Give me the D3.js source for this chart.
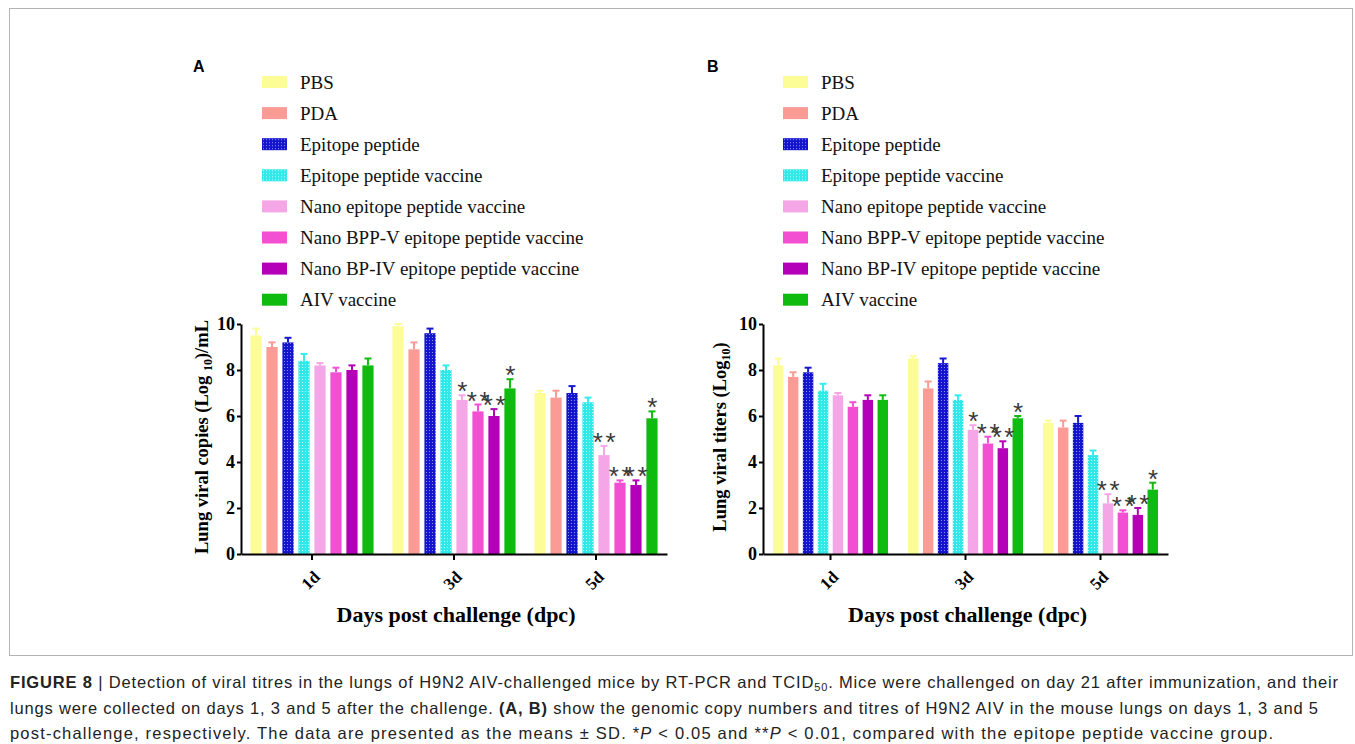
<!DOCTYPE html>
<html lang="en">
<head>
<meta charset="utf-8">
<title>Figure 8</title>
<script src="https://d3js.org/d3.v7.min.js"></script>
<style>
  body { margin: 0; background: #fff; }
  svg { display: block; }
</style>
</head>
<body>
<div id="chart"></div>
<script>
var groups = ["PBS", "PDA", "Epitope peptide", "Epitope peptide vaccine",
  "Nano epitope peptide vaccine", "Nano BPP-V epitope peptide vaccine",
  "Nano BP-IV epitope peptide vaccine", "AIV vaccine"];
var colors = ["#fdfd98", "#fa9b95", "#1818d2", "#35ecec", "#f5a6e6", "#f24fd2", "#b400b8", "#10bb10"];
var days = ["1d", "3d", "5d"];
var yTicks = [0, 2, 4, 6, 8, 10];

// A: lung viral copies, one row per day (1d, 3d, 5d)
var copiesMean = [
  [9.5, 9.0, 9.2, 8.4, 8.2, 7.9, 8.0, 8.2],
  [9.9, 8.9, 9.6, 8.0, 6.7, 6.2, 6.0, 7.2],
  [7.0, 6.8, 7.0, 6.6, 4.3, 3.1, 3.0, 5.9]
];
var copiesSD = [
  [0.3, 0.2, 0.2, 0.3, 0.1, 0.2, 0.2, 0.3],
  [0.1, 0.3, 0.2, 0.2, 0.2, 0.3, 0.3, 0.4],
  [0.1, 0.3, 0.3, 0.2, 0.4, 0.1, 0.2, 0.3]
];
var copiesSig = [
  ["", "", "", "", "", "", "", ""],
  ["", "", "", "", "*", "**", "**", "*"],
  ["", "", "", "", "**", "**", "**", "*"]
];

// B: lung viral titers
var titersMean = [
  [8.2, 7.7, 7.9, 7.1, 6.9, 6.4, 6.7, 6.7],
  [8.5, 7.2, 8.3, 6.7, 5.4, 4.8, 4.6, 5.9],
  [5.7, 5.5, 5.7, 4.3, 2.2, 1.8, 1.7, 2.8]
];
var titersSD = [
  [0.3, 0.2, 0.2, 0.3, 0.1, 0.2, 0.2, 0.2],
  [0.1, 0.3, 0.2, 0.2, 0.2, 0.3, 0.3, 0.1],
  [0.1, 0.3, 0.3, 0.2, 0.4, 0.1, 0.3, 0.3]
];
var titersSig = copiesSig;

var W = 1355, H = 744;
var svg = d3.select("#chart").append("svg")
    .attr("width", W)
    .attr("height", H);

svg.append("rect")
    .attr("x", 9.5).attr("y", 8.5)
    .attr("width", 1343).attr("height", 647)
    .attr("fill", "#fff")
    .attr("stroke", "#b4b4b4");

// dotted fills for the two epitope peptide groups
var defs = svg.append("defs");
function dots(id, base, dot) {
  var p = defs.append("pattern")
      .attr("id", id)
      .attr("patternUnits", "userSpaceOnUse")
      .attr("width", 3).attr("height", 3);
  p.append("rect").attr("width", 3).attr("height", 3).attr("fill", base);
  p.append("rect").attr("x", 1).attr("y", 1).attr("width", 1).attr("height", 1).attr("fill", dot);
}
dots("dotBlue", "#1414cc", "#8c8cff");
dots("dotCyan", "#30e8e8", "#b4ffff");
function fillFor(i) {
  if (i === 2) return "url(#dotBlue)";
  if (i === 3) return "url(#dotCyan)";
  return colors[i];
}

var serif = "'Liberation Serif', 'Times New Roman', serif";
var sans = "'Liberation Sans', Arial, sans-serif";

function drawPanel(o) {
  var g = svg.append("g");

  // panel letter
  g.append("text")
      .attr("x", o.letterX).attr("y", 72)
      .attr("font-family", sans).attr("font-weight", "bold")
      .attr("font-size", 16)
      .text(o.letter);

  // legend
  var leg = g.selectAll(".leg").data(groups).enter().append("g")
      .attr("transform", function(d, i) { return "translate(" + o.legendX + "," + (82 + i * 31.1) + ")"; });
  leg.append("rect")
      .attr("x", 0).attr("y", -6)
      .attr("width", 25).attr("height", 12)
      .attr("fill", function(d, i) { return fillFor(i); });
  leg.append("text")
      .attr("x", 38).attr("y", 6.5)
      .attr("font-family", serif).attr("font-size", 19)
      .attr("fill", "#111")
      .text(function(d) { return d; });

  var y = d3.scaleLinear().domain([0, 10]).range([554, 324]);
  var x = d3.scaleBand().domain(days).range([o.x0, o.x1]);
  var inner = d3.scaleBand().domain(d3.range(groups.length))
      .range([0, x.bandwidth()])
      .paddingInner(0.3).paddingOuter(o.outer);

  // bars
  days.forEach(function(day, di) {
    var rows = o.mean[di].map(function(m, gi) {
      return {gi: gi, mean: m, sd: o.sd[di][gi], sig: o.sig[di][gi]};
    });
    var dg = g.append("g").attr("transform", "translate(" + x(day) + ",0)");
    dg.selectAll(".bar").data(rows).enter().append("rect")
        .attr("x", function(d) { return inner(d.gi); })
        .attr("y", function(d) { return y(d.mean); })
        .attr("width", inner.bandwidth())
        .attr("height", function(d) { return y(0) - y(d.mean); })
        .attr("fill", function(d) { return fillFor(d.gi); });
    // error bars
    var cx = function(d) { return inner(d.gi) + inner.bandwidth() / 2; };
    dg.selectAll(".err").data(rows).enter().append("line")
        .attr("x1", cx).attr("x2", cx)
        .attr("y1", function(d) { return y(d.mean); })
        .attr("y2", function(d) { return y(d.mean + d.sd); })
        .attr("stroke", function(d) { return colors[d.gi]; })
        .attr("stroke-width", 2);
    dg.selectAll(".cap").data(rows).enter().append("line")
        .attr("x1", function(d) { return cx(d) - 3.5; })
        .attr("x2", function(d) { return cx(d) + 3.5; })
        .attr("y1", function(d) { return y(d.mean + d.sd); })
        .attr("y2", function(d) { return y(d.mean + d.sd); })
        .attr("stroke", function(d) { return colors[d.gi]; })
        .attr("stroke-width", 2);
    // significance stars, one text per mark
    dg.selectAll(".sig").data(rows.filter(function(d) { return d.sig; })).enter().append("text")
        .attr("x", function(d) { return cx(d) + 1.5; })
        .attr("y", function(d) { return y(d.mean + d.sd) + 5; })
        .attr("text-anchor", "middle")
        .attr("font-family", sans).attr("font-size", 26)
        .attr("letter-spacing", 2.5)
        .attr("fill", "#3a3a3a")
        .text(function(d) { return d.sig; });
  });

  // axes
  var ya = g.append("g")
      .attr("transform", "translate(" + o.x0 + ",0)")
      .call(d3.axisLeft(y).tickValues(yTicks).tickSize(4).tickSizeOuter(0).tickPadding(2));
  ya.selectAll("text")
      .attr("font-family", serif).attr("font-weight", "bold")
      .attr("font-size", 18).attr("fill", "#000");
  ya.select(".domain").attr("stroke-width", 2);
  ya.selectAll(".tick line").attr("stroke-width", 2);

  var xa = g.append("g")
      .attr("transform", "translate(0,554)")
      .call(d3.axisBottom(x).tickSize(6).tickSizeOuter(0));
  xa.select(".domain").attr("stroke-width", 2);
  xa.selectAll(".tick line").attr("stroke-width", 2);
  xa.selectAll("text")
      .attr("font-family", serif).attr("font-weight", "bold")
      .attr("font-size", 17).attr("fill", "#000")
      .attr("text-anchor", "end")
      .attr("dy", null).attr("y", null)
      .attr("transform", "translate(9,24) rotate(-45)");

  // axis titles
  var yt = g.append("text")
      .attr("transform", "translate(" + o.yTitleX + "," + o.yTitleY + ") rotate(-90)")
      .attr("text-anchor", "middle")
      .attr("font-family", serif).attr("font-weight", "bold")
      .attr("font-size", 18.5);
  yt.append("tspan").text(o.yTitle[0]);
  yt.append("tspan").attr("font-size", 12).attr("dy", 4).text(o.yTitle[1]);
  yt.append("tspan").attr("dy", -4).text(o.yTitle[2]);

  g.append("text")
      .attr("x", (o.x0 + o.x1) / 2 + 2).attr("y", 622)
      .attr("text-anchor", "middle")
      .attr("font-family", serif).attr("font-weight", "bold")
      .attr("font-size", 22)
      .text("Days post challenge (dpc)");
}

drawPanel({
  letter: "A", letterX: 193, legendX: 262,
  x0: 241, x1: 667, outer: 0.59,
  mean: copiesMean, sd: copiesSD, sig: copiesSig,
  yTitleX: 208, yTitleY: 437,
  yTitle: ["Lung viral copies (Log ", "10", ")/mL"]
});
drawPanel({
  letter: "B", letterX: 707, legendX: 783,
  x0: 763, x1: 1168, outer: 0.67,
  mean: titersMean, sd: titersSD, sig: titersSig,
  yTitleX: 726, yTitleY: 437,
  yTitle: ["Lung viral titers (Log", "10", ")"]
});

// caption
var capLines = [
  {w: 1328, parts: [["FIGURE 8", "b"], [" | Detection of viral titres in the lungs of H9N2 AIV-challenged mice by RT-PCR and TCID", ""], ["50", "sub"], [". Mice were challenged on day 21 after immunization, and their", ""]]},
  {w: 1308, parts: [["lungs were collected on days 1, 3 and 5 after the challenge. ", ""], ["(A, B)", "b"], [" show the genomic copy numbers and titres of H9N2 AIV in the mouse lungs on days 1, 3 and 5", ""]]},
  {w: 1263, parts: [["post-challenge, respectively. The data are presented as the means \u00b1 SD. *", ""], ["P", "i"], [" < 0.05 and **", ""], ["P", "i"], [" < 0.01, compared with the epitope peptide vaccine group.", ""]]}
];
capLines.forEach(function(line, li) {
  var t = svg.append("text")
      .attr("x", 10).attr("y", 688 + li * 25.5)
      .attr("font-family", sans).attr("font-size", 16.5)
      .attr("fill", "#222")
      .attr("textLength", line.w).attr("lengthAdjust", "spacing");
  var shifted = false;
  line.parts.forEach(function(p) {
    var s = t.append("tspan").text(p[0]);
    if (p[1] === "b") s.attr("font-weight", "bold");
    if (p[1] === "i") s.attr("font-style", "italic");
    if (p[1] === "sub") { s.attr("font-size", 11).attr("dy", 3); shifted = true; }
    else if (shifted) { s.attr("dy", -3); shifted = false; }
  });
});
</script>
</body>
</html>
